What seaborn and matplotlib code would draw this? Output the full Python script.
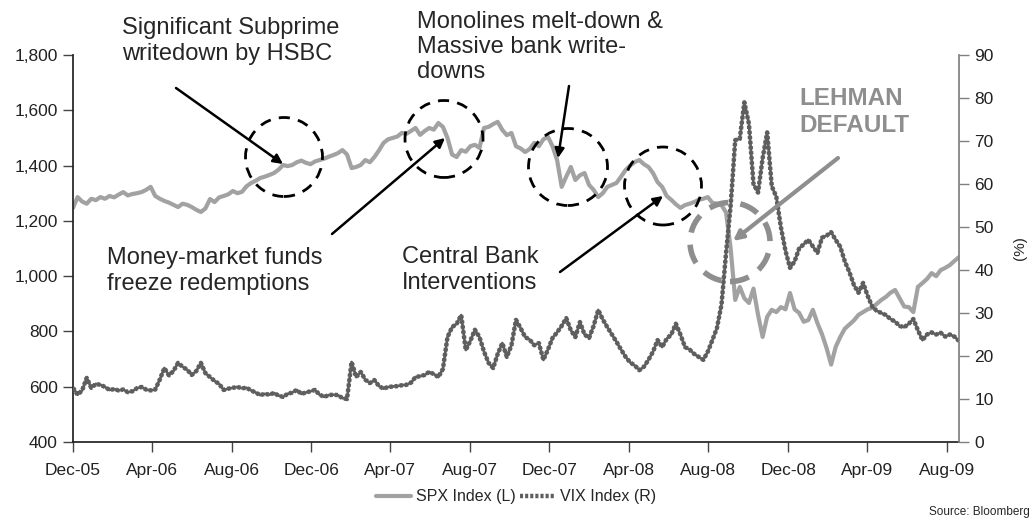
"""SPX vs VIX through the credit crisis, Dec-05 to Aug-09."""

import matplotlib

matplotlib.use("Agg")

import matplotlib.dates as mdates
import matplotlib.pyplot as plt
import pandas as pd
import seaborn as sns
from matplotlib.patches import Ellipse
from matplotlib.ticker import FuncFormatter

START_DATE = "2005-12-01"
SPX_LEVEL = [
    1247, 1286, 1270, 1262, 1280, 1275, 1286, 1280, 1290, 1285,
    1295, 1304, 1292, 1297, 1300, 1304, 1312, 1323, 1290, 1280,
    1272, 1266, 1258, 1250, 1262, 1258, 1250, 1240, 1232, 1245,
    1279, 1268, 1285, 1290, 1296, 1308, 1300, 1305, 1325, 1337,
    1345, 1355, 1360, 1366, 1373, 1385, 1402, 1398, 1402, 1412,
    1418, 1410, 1405, 1415, 1420, 1425, 1432, 1438, 1445, 1456,
    1440, 1391, 1395, 1402, 1420, 1412, 1431, 1455, 1482, 1495,
    1500, 1505, 1518, 1515, 1525, 1536, 1511, 1525, 1536, 1530,
    1554, 1540, 1500, 1440, 1431, 1456, 1450, 1470, 1475, 1464,
    1536, 1540, 1550, 1558, 1529, 1510, 1518, 1470, 1462, 1449,
    1460, 1482, 1470, 1495, 1504, 1470, 1420, 1323, 1360, 1395,
    1348, 1365, 1373, 1330, 1312, 1286, 1300, 1323, 1330, 1337,
    1360, 1384, 1400, 1413, 1420, 1405, 1395, 1373, 1340, 1323,
    1290, 1276, 1260, 1247, 1257, 1262, 1268, 1276, 1280, 1286,
    1265, 1262, 1257, 1230, 1100, 914, 961, 920, 903, 955,
    860, 780, 853, 878, 870, 888, 880, 939, 880, 867,
    835, 841, 878, 830, 790, 740, 680, 744, 780, 810,
    825, 840, 860, 870, 880, 885, 900, 914, 925, 940,
    950, 920, 890, 888, 870, 961, 975, 990, 1011, 1000,
    1022, 1030, 1040, 1055, 1069,
]
VIX_LEVEL = [
    12.6, 11.0, 12.0, 14.9, 12.6, 13.5, 13.3, 12.8, 12.1, 12.3,
    12.0, 12.2, 11.6, 11.8, 12.5, 12.8, 12.2, 12.0, 12.2, 14.5,
    17.2, 15.5, 16.5, 18.4, 17.5, 16.8, 15.6, 16.5, 18.4, 16.0,
    15.1, 14.2, 13.5, 12.1, 12.4, 12.6, 12.8, 12.5, 12.6, 12.0,
    11.5, 10.9, 11.2, 11.0, 11.4, 10.8, 10.5, 11.2, 11.5, 12.1,
    11.2, 11.5, 11.8, 12.1, 11.0, 10.5, 10.9, 11.0, 10.9, 10.2,
    10.0, 18.6, 15.1, 16.3, 14.5, 13.7, 14.4, 13.0, 12.4, 12.8,
    12.9, 13.0, 13.2, 13.3, 13.8, 15.1, 15.3, 15.6, 16.3, 15.8,
    15.1, 17.0, 24.4, 26.7, 27.5, 29.5, 21.4, 23.5, 26.1, 24.4,
    21.0, 18.4, 17.2, 20.5, 23.0, 19.8, 22.5, 28.4, 26.5, 24.4,
    23.8, 22.5, 23.0, 19.1, 21.5, 24.2, 25.5, 27.0, 28.8, 26.0,
    24.4, 27.9, 25.0, 24.2, 27.0, 30.7, 28.5, 26.7, 25.0, 23.3,
    21.5, 19.8, 18.5, 17.8, 16.7, 17.5, 19.1, 21.0, 23.7, 22.1,
    24.0, 25.0, 27.5, 25.0, 22.1, 21.5, 20.5, 19.8, 19.1, 21.0,
    23.7, 26.5, 32.0, 44.0, 55.0, 70.2, 70.5, 79.0, 74.0, 60.0,
    58.0, 66.0, 72.0, 59.5, 57.0, 50.0, 44.5, 40.5, 42.0, 45.0,
    46.0, 47.0, 45.5, 44.0, 47.5, 48.0, 48.8, 47.0, 45.4, 42.0,
    39.5, 36.5, 34.7, 37.0, 34.0, 31.5, 30.5, 30.0, 29.5, 28.6,
    28.0, 27.0, 26.7, 27.5, 28.6, 26.0, 23.7, 25.0, 25.5, 25.0,
    25.4, 24.5, 25.0, 24.5, 23.5,
]
SPX_TICKS = list(range(400, 1801, 200))
VIX_TICKS = list(range(0, 91, 10))
SPX_LABEL = "SPX Index (L)"
VIX_LABEL = "VIX Index (R)"

SPX_COLOR = "#a2a2a2"
VIX_COLOR = "#5e5e5e"
LEHMAN_COLOR = "#8e8e8e"

# axes box in the 1035x532 canvas (pixels)
AX_LEFT, AX_RIGHT, AX_TOP, AX_BOTTOM = 73, 959, 55, 442
FIG_W, FIG_H = 1035, 532


def px(x, y):
    """Canvas pixel position -> axes fraction."""
    return ((x - AX_LEFT) / (AX_RIGHT - AX_LEFT), (AX_BOTTOM - y) / (AX_BOTTOM - AX_TOP))


def dashed_circle(ax, x, y, w, h, color, lw, dashes):
    cx, cy = px(x, y)
    ax.add_patch(
        Ellipse(
            (cx, cy),
            w / (AX_RIGHT - AX_LEFT),
            h / (AX_BOTTOM - AX_TOP),
            transform=ax.transAxes,
            fill=False,
            edgecolor=color,
            linewidth=lw,
            linestyle=(0, dashes),
            clip_on=False,
            zorder=6,
        )
    )


def arrow(ax, tail, head, color="black", lw=1.8):
    ax.annotate(
        "",
        xy=px(*head),
        xytext=px(*tail),
        xycoords="axes fraction",
        textcoords="axes fraction",
        arrowprops=dict(arrowstyle="-|>", color=color, lw=lw, mutation_scale=14, shrinkA=0, shrinkB=0),
        annotation_clip=False,
        zorder=7,
    )


def note(ax, x, y, text, size=17, **kw):
    fx, fy = px(x, y)
    ax.text(fx, fy, text, transform=ax.transAxes, ha="left", va="center",
            fontsize=size, linespacing=1.2, clip_on=False, zorder=8, **kw)


sns.set_theme(style="ticks")
plt.rcParams["font.family"] = ["Liberation Sans", "DejaVu Sans"]

dates = pd.date_range(START_DATE, periods=len(SPX_LEVEL), freq="7D")
df = pd.DataFrame({"date": dates, "spx": SPX_LEVEL, "vix": VIX_LEVEL})

fig = plt.figure(figsize=(FIG_W / 100, FIG_H / 100), dpi=100)
ax = fig.add_axes([
    AX_LEFT / FIG_W,
    1 - AX_BOTTOM / FIG_H,
    (AX_RIGHT - AX_LEFT) / FIG_W,
    (AX_BOTTOM - AX_TOP) / FIG_H,
])
ax2 = ax.twinx()

sns.lineplot(data=df, x="date", y="spx", ax=ax, color=SPX_COLOR, linewidth=3,
             label=SPX_LABEL, legend=False)
# VIX: solid core plus a dotted outline for the beaded look
sns.lineplot(data=df, x="date", y="vix", ax=ax2, color=VIX_COLOR, linewidth=2.0,
             legend=False)
sns.lineplot(data=df, x="date", y="vix", ax=ax2, color=VIX_COLOR, linewidth=3.2,
             label=VIX_LABEL, legend=False)
vix_line = ax2.get_lines()[1]
vix_line.set_linestyle((0, (0.7, 0.45)))
vix_line.set_dash_capstyle("butt")

ax.set_xlim(dates[0], dates[-1])
ax.set_ylim(400, 1800)
ax2.set_ylim(0, 90)
ax.set_yticks(SPX_TICKS)
ax2.set_yticks(VIX_TICKS)
ax.yaxis.set_major_formatter(FuncFormatter(lambda v, _: f"{v:,.0f}"))
ax.xaxis.set_major_locator(mdates.MonthLocator(bymonth=[4, 8, 12]))
ax.xaxis.set_major_formatter(mdates.DateFormatter("%b-%y"))
ax.set_xlabel("")
ax.set_ylabel("")
ax2.set_xlabel("")
ax2.set_ylabel("(%)", fontsize=11, labelpad=14)

for a in (ax, ax2):
    a.spines["top"].set_visible(False)
    a.grid(False)
ax.spines["right"].set_visible(False)
ax.spines["left"].set_color("#222222")
ax.spines["bottom"].set_color("#222222")
ax2.spines["left"].set_visible(False)
ax2.spines["bottom"].set_visible(False)
ax2.spines["right"].set_color("#808080")
ax.tick_params(axis="both", direction="out", length=7, width=1, color="#444444",
               labelsize=12.5, labelcolor="#222222", pad=4)
ax.tick_params(axis="x", pad=8)
ax2.tick_params(axis="y", direction="out", length=7, width=1, color="#808080",
                labelsize=12.5, labelcolor="#222222", pad=4)

# annotations
note(ax2, 122, 41, "Significant Subprime\nwritedown by HSBC")
arrow(ax2, (176, 88), (283, 164))
dashed_circle(ax2, 284, 157, 77, 79, "black", 2.0, (4, 3))

note(ax2, 107, 271, "Money-market funds\nfreeze redemptions")
arrow(ax2, (332, 234), (445, 138))
dashed_circle(ax2, 444, 139, 78, 77, "black", 2.0, (4, 3))

note(ax2, 417, 47, "Monolines melt-down &\nMassive bank write-\ndowns")
arrow(ax2, (569, 86), (558, 158))
dashed_circle(ax2, 568, 167, 79, 77, "black", 2.0, (4, 3))

note(ax2, 402, 270, "Central Bank\nInterventions")
arrow(ax2, (560, 272), (663, 196))
dashed_circle(ax2, 663, 186, 77, 78, "black", 2.0, (4, 3))

note(ax2, 799, 112, "LEHMAN\nDEFAULT", size=17.5, color=LEHMAN_COLOR, fontweight="bold")
arrow(ax2, (838, 158), (733, 241), color=LEHMAN_COLOR, lw=3)
dashed_circle(ax, 730, 242, 80, 79, LEHMAN_COLOR, 4.0, (3.5, 2.2))

handles = [ax.get_lines()[0], vix_line]
fig.legend(handles, [SPX_LABEL, VIX_LABEL], loc="center",
           bbox_to_anchor=(516 / FIG_W, 1 - 497 / FIG_H), ncol=2, frameon=False,
           fontsize=11.5, handlelength=2.2, handletextpad=0.3, columnspacing=0.3)
fig.text(1030 / FIG_W, 1 - 512 / FIG_H, "Source: Bloomberg", ha="right", va="center",
         fontsize=8.5)

fig.savefig("out.png", dpi=100)
